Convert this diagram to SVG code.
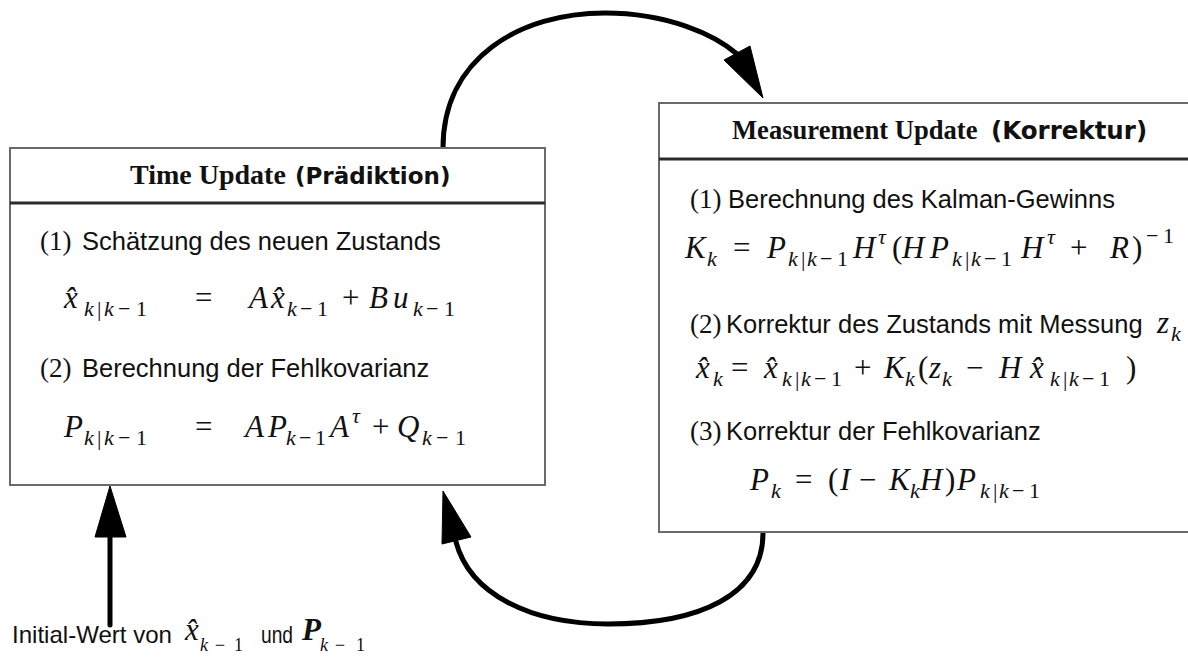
<svg xmlns="http://www.w3.org/2000/svg" width="1188" height="664" viewBox="0 0 1188 664">
<style>
.box{fill:#fff;stroke:#6a6a6a;stroke-width:2}
.div{stroke:#2a2a2a;stroke-width:3}
.ttl{font-family:"Liberation Serif",serif;font-weight:bold;fill:#111}
.tts{font-family:"DejaVu Sans",sans-serif;font-weight:bold;fill:#111}
.num{font-family:"Liberation Serif",serif;font-size:27px;fill:#111}
.txt{font-family:"Liberation Sans",Arial,sans-serif;font-size:25.5px;fill:#111}
.m{font-family:"Liberation Serif",serif;font-size:31px;fill:#111}
.i{font-style:italic}
.s{font-size:22px}
.lbl{font-family:"Liberation Sans Narrow","Liberation Sans",sans-serif;font-size:24px;fill:#111}
.con{fill:none;stroke:#000;stroke-width:5;stroke-linecap:round}
.head{fill:#000;stroke:#000;stroke-width:1;stroke-linejoin:round}
</style>

<g id="connectors">
  <path class="con" d="M443,148 C443,58 520,13 605,13 C668,13 715,35 737,54"/>
  <polygon class="head" points="763,98 724,60 750,46"/>
  <path class="con" d="M763,533 C763,595 700,624 608,624 C530,624 470,594 456,542"/>
  <polygon class="head" points="443,491 442,544 471,537"/>
  <line class="con" x1="110" y1="625" x2="110" y2="530" stroke-linecap="butt"/>
  <polygon class="head" points="110,486 95,537 126,537"/>
</g>

<g id="time-update">
  <rect class="box" x="10" y="148" width="535" height="337"/>
  <line class="div" x1="10" y1="203" x2="545" y2="203"/>
  <text class="ttl" x="130" y="184" font-size="28">Time Update</text>
  <text class="tts" x="295" y="184" font-size="23">(Prädiktion)</text>
  <text class="num" x="40" y="250">(1)</text>
  <text class="txt" x="82" y="250">Schätzung des neuen Zustands</text>
  <text class="m" y="308"><tspan class="i" x="64">x̂</tspan><tspan class="s" y="316"><tspan class="i" x="84">k</tspan><tspan x="97">|</tspan><tspan class="i" x="104">k</tspan><tspan x="118">−</tspan><tspan x="136">1</tspan></tspan><tspan x="195" y="308">=</tspan><tspan class="i" x="249">A</tspan><tspan class="i" x="271">x̂</tspan><tspan class="s" y="316"><tspan class="i" x="287">k</tspan><tspan x="300">−</tspan><tspan x="317">1</tspan></tspan><tspan x="342" y="308">+</tspan><tspan class="i" x="369">B</tspan><tspan class="i" x="393">u</tspan><tspan class="s" y="316"><tspan class="i" x="413">k</tspan><tspan x="426">−</tspan><tspan x="444">1</tspan></tspan></text>
  <text class="num" x="40" y="377">(2)</text>
  <text class="txt" x="82" y="377">Berechnung der Fehlkovarianz</text>
  <text class="m" y="437"><tspan class="i" x="64">P</tspan><tspan class="s" y="445"><tspan class="i" x="84">k</tspan><tspan x="97">|</tspan><tspan class="i" x="104">k</tspan><tspan x="118">−</tspan><tspan x="136">1</tspan></tspan><tspan x="195" y="437">=</tspan><tspan class="i" x="245">A</tspan><tspan class="i" x="268">P</tspan><tspan class="s" y="445"><tspan class="i" x="286">k</tspan><tspan x="299">−</tspan><tspan x="315">1</tspan></tspan><tspan class="i" x="330" y="437">A</tspan><tspan class="s i" x="352" y="423">τ</tspan><tspan x="372" y="437">+</tspan><tspan class="i" x="397">Q</tspan><tspan class="s" y="445"><tspan class="i" x="422">k</tspan><tspan x="436">−</tspan><tspan x="455">1</tspan></tspan></text>
</g>

<g id="measurement-update">
  <rect class="box" x="659" y="103" width="540" height="429"/>
  <line class="div" x1="659" y1="159" x2="1190" y2="159"/>
  <text class="ttl" x="732" y="139" font-size="26.6">Measurement Update</text>
  <text class="tts" x="991" y="139" font-size="24.5">(Korrektur)</text>
  <text class="num" x="690" y="208">(1)</text>
  <text class="txt" x="728" y="208">Berechnung des Kalman-Gewinns</text>
  <text class="m" y="258"><tspan class="i" x="685">K</tspan><tspan class="s i" x="707" y="266">k</tspan><tspan x="733" y="258">=</tspan><tspan class="i" x="767">P</tspan><tspan class="s" y="266"><tspan class="i" x="788">k</tspan><tspan x="801">|</tspan><tspan class="i" x="807">k</tspan><tspan x="820">−</tspan><tspan x="837">1</tspan></tspan><tspan class="i" x="853" y="258">H</tspan><tspan class="s i" x="878" y="244">τ</tspan><tspan x="892" y="258">(</tspan><tspan class="i" x="902">H</tspan><tspan class="i" x="930">P</tspan><tspan class="s" y="266"><tspan class="i" x="952">k</tspan><tspan x="965">|</tspan><tspan class="i" x="971">k</tspan><tspan x="984">−</tspan><tspan x="1001">1</tspan></tspan><tspan class="i" x="1021" y="258">H</tspan><tspan class="s i" x="1047" y="244">τ</tspan><tspan x="1070" y="258">+</tspan><tspan class="i" x="1110">R</tspan><tspan x="1132">)</tspan><tspan class="s" y="243"><tspan x="1146">−</tspan><tspan x="1163">1</tspan></tspan></text>
  <text class="num" x="690" y="333">(2)</text>
  <text class="txt" x="726" y="333" font-size="26.2">Korrektur des Zustands mit Messung</text>
  <text class="m" y="333"><tspan class="i" x="1157">z</tspan><tspan class="s i" x="1171" y="341">k</tspan></text>
  <text class="m" y="378"><tspan class="i" x="696">x̂</tspan><tspan class="s i" x="713" y="386">k</tspan><tspan x="731" y="378">=</tspan><tspan class="i" x="764">x̂</tspan><tspan class="s" y="386"><tspan class="i" x="782">k</tspan><tspan x="795">|</tspan><tspan class="i" x="801">k</tspan><tspan x="814">−</tspan><tspan x="831">1</tspan></tspan><tspan x="854" y="378">+</tspan><tspan class="i" x="884">K</tspan><tspan class="s i" x="905" y="386">k</tspan><tspan x="918" y="378">(</tspan><tspan class="i" x="929">z</tspan><tspan class="s i" x="942" y="386">k</tspan><tspan x="966" y="378">−</tspan><tspan class="i" x="999">H</tspan><tspan class="i" x="1030">x̂</tspan><tspan class="s" y="386"><tspan class="i" x="1050">k</tspan><tspan x="1063">|</tspan><tspan class="i" x="1069">k</tspan><tspan x="1082">−</tspan><tspan x="1099">1</tspan></tspan><tspan x="1126" y="378">)</tspan></text>
  <text class="num" x="690" y="440">(3)</text>
  <text class="txt" x="726" y="440">Korrektur der Fehlkovarianz</text>
  <text class="m" y="490"><tspan class="i" x="750">P</tspan><tspan class="s i" x="771" y="498">k</tspan><tspan x="795" y="490">=</tspan><tspan x="828">(</tspan><tspan class="i" x="840">I</tspan><tspan x="859">−</tspan><tspan class="i" x="889">K</tspan><tspan class="s i" x="910" y="498">k</tspan><tspan class="i" x="920" y="490">H</tspan><tspan x="945">)</tspan><tspan class="i" x="957">P</tspan><tspan class="s" y="498"><tspan class="i" x="980">k</tspan><tspan x="993">|</tspan><tspan class="i" x="999">k</tspan><tspan x="1012">−</tspan><tspan x="1029">1</tspan></tspan></text>
</g>

<g id="initial-label">
  <text class="lbl" x="12" y="643" textLength="160" lengthAdjust="spacingAndGlyphs">Initial-Wert von</text>
  <text class="m" y="640" font-size="22"><tspan class="i" x="185">x̂</tspan><tspan class="i" x="200" y="651" font-size="18">k</tspan><tspan x="215" y="651" font-size="18">−</tspan><tspan x="234" y="651" font-size="18">1</tspan></text>
  <text class="lbl" x="261" y="643" textLength="32" lengthAdjust="spacingAndGlyphs">und</text>
  <text class="m" y="640" font-size="23" font-weight="bold"><tspan class="i" x="302">P</tspan><tspan class="i" x="320" y="651" font-size="18" font-weight="normal">k</tspan><tspan x="335" y="651" font-size="18" font-weight="normal">−</tspan><tspan x="356" y="651" font-size="18" font-weight="normal">1</tspan></text>
</g>
</svg>
